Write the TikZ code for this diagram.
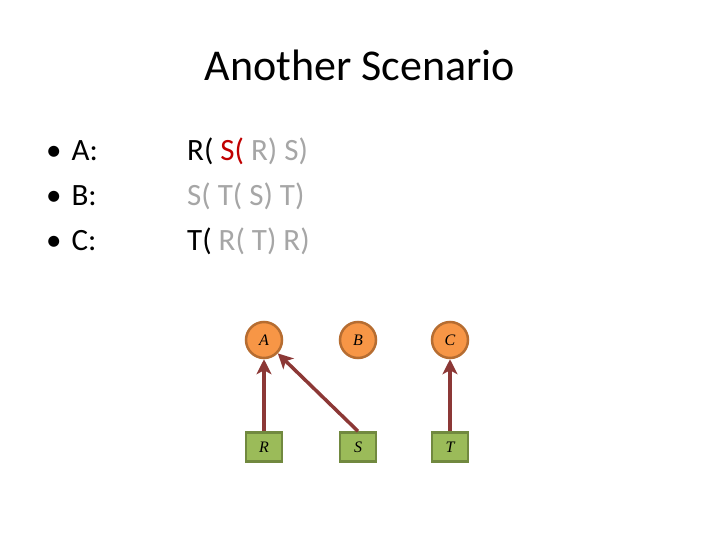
\documentclass[tikz,border=0pt]{standalone}
\usepackage{fontspec}
\setmainfont{Carlito}
\newfontfamily\labelfont{Liberation Serif}
\usepackage{tikz}
\usetikzlibrary{arrows.meta}

\definecolor{nodeorange}{HTML}{F79646}
\definecolor{orangeedge}{HTML}{B66D31}
\definecolor{nodegreen}{HTML}{9BBB59}
\definecolor{greenedge}{HTML}{71893F}
\definecolor{linkred}{HTML}{8C3836}
\definecolor{softgray}{HTML}{A6A6A6}
\definecolor{hotred}{HTML}{C00000}

\tikzset{
  varnode/.style={circle, draw=orangeedge, fill=nodeorange, line width=2.5pt,
    minimum size=36pt, inner sep=0pt, font=\labelfont\itshape\fontsize{16}{16}\selectfont},
  relnode/.style={rectangle, draw=greenedge, fill=nodegreen, line width=2.5pt,
    minimum width=36pt, minimum height=29pt, inner sep=0pt, font=\labelfont\itshape\fontsize{16}{16}\selectfont},
  link/.style={-{Stealth[length=15pt, width=15pt, inset=4pt]}, line width=3.5pt, draw=linkred},
  rowtext/.style={anchor=base west, inner sep=0pt, font=\fontsize{31}{31}\selectfont}
}

\begin{document}
\begin{tikzpicture}[x=1pt, y=-1pt, >=Stealth]
  \useasboundingbox (0,0) rectangle (720,540);

  % title
  \node[anchor=base, inner sep=0pt, font=\fontsize{44}{44}\selectfont] (title) at (360,81) {Another Scenario};

  % bullets and rows
  \node[rowtext] (ba) at (46,161) {\textbullet\hspace{10pt}A:};
  \node[rowtext] (bb) at (46,206) {\textbullet\hspace{10pt}B:};
  \node[rowtext] (bc) at (46,251) {\textbullet\hspace{10pt}C:};
  \node[rowtext] (ra) at (187,161) {R( \textcolor{hotred}{S(} \textcolor{softgray}{R) S)}};
  \node[rowtext, text=softgray] (rb) at (187,206) {S( T( S) T)};
  \node[rowtext] (rc) at (187,251) {T( \textcolor{softgray}{R( T) R)}};

  % graph
  \node[varnode] (A) at (264,340) {A};
  \node[varnode] (B) at (358,340) {B};
  \node[varnode] (C) at (450,340) {C};
  \node[relnode] (R) at (264,447) {R};
  \node[relnode] (S) at (358,447) {S};
  \node[relnode] (T) at (450,447) {T};

  \draw[link] (R) -- (A);
  \draw[link] (S.north) -- (A);
  \draw[link] (T) -- (C);
\end{tikzpicture}
\end{document}
